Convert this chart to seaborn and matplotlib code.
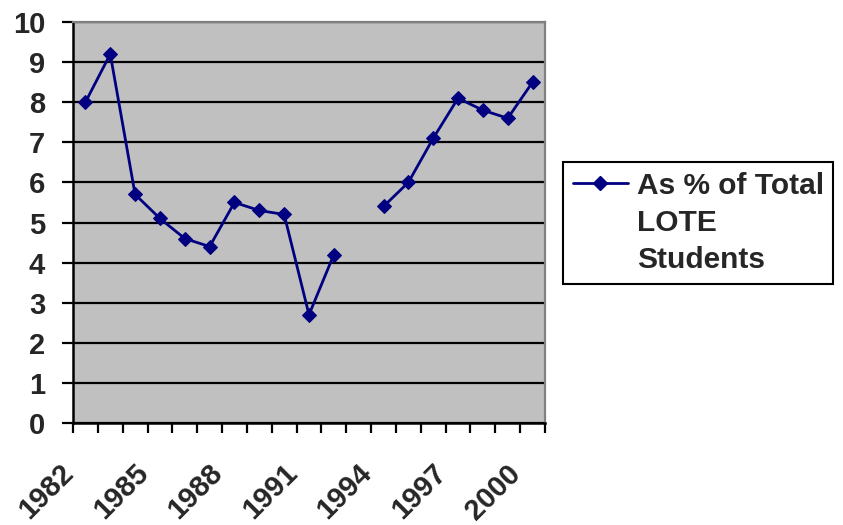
import matplotlib as mpl
mpl.use("Agg")
import matplotlib.pyplot as plt
import matplotlib.transforms as mtransforms
from matplotlib.legend_handler import HandlerLine2D
import numpy as np
import pandas as pd
import seaborn as sns

YEARS = list(range(1982, 2001))
PCT = [8.0, 9.2, 5.7, 5.1, 4.6, 4.4, 5.5, 5.3, 5.2, 2.7, 4.2, np.nan,
       5.4, 6.0, 7.1, 8.1, 7.8, 7.6, 8.5]
LABEL_YEARS = [1982, 1985, 1988, 1991, 1994, 1997, 2000]
SERIES = "As % of Total\nLOTE\nStudents"

NAVY = "#000080"


class FirstLineHandler(HandlerLine2D):
    # put the legend marker level with the first text line (Excel style)
    def __init__(self, dy, **kw):
        super().__init__(**kw)
        self.dy = dy

    def create_artists(self, *args, **kw):
        arts = super().create_artists(*args, **kw)
        for a in arts:
            a.set_ydata(np.asarray(a.get_ydata()) + self.dy)
        return arts


# --- data: split into segments where a year is missing ---
df = pd.DataFrame({"year": YEARS, "pct": PCT})
df["segment"] = df["pct"].isna().cumsum()
df = df.dropna()

sns.set_style("white")
plt.rcParams["font.family"] = ["Liberation Sans", "DejaVu Sans"]
plt.rcParams["font.weight"] = "bold"

fig = plt.figure(figsize=(8.43, 5.25), dpi=100)
ax = fig.add_axes([73 / 843, 1 - 423 / 525, 472 / 843, 401 / 525])
ax.set_facecolor("#C0C0C0")

sns.lineplot(
    data=df,
    x="year",
    y="pct",
    units="segment",
    estimator=None,
    color=NAVY,
    linewidth=2,
    marker="D",
    markersize=7.5,
    markeredgecolor=NAVY,
    ax=ax,
)

ax.set_xlim(YEARS[0] - 0.5, YEARS[-1] + 0.5)
ax.set_ylim(0, 10)
ax.set_yticks(range(0, 11))
ax.yaxis.grid(True, color="black", linewidth=1.6)
ax.set_axisbelow(True)

# category boundary ticks
ax.set_xticks(np.arange(YEARS[0] - 0.5, YEARS[-1] + 1.0, 1.0), minor=True)
ax.set_xticks(LABEL_YEARS)
ax.set_xticklabels([str(y) for y in LABEL_YEARS], rotation=45, ha="right",
                   rotation_mode="anchor", fontsize=21, fontweight="bold")
ax.tick_params(axis="x", which="major", length=0, pad=26)
ax.tick_params(axis="x", which="minor", length=7, width=1.6, color="black",
               direction="out", bottom=True)
ax.tick_params(axis="y", length=8, width=1.6, color="black", direction="out",
               left=True, labelsize=21, pad=12)
for lbl in ax.get_yticklabels():
    lbl.set_fontweight("bold")

# shift rotated year labels a little to the left
shift = mtransforms.ScaledTranslation(-26 / 100, 0, fig.dpi_scale_trans)
for lbl in ax.get_xticklabels():
    lbl.set_transform(lbl.get_transform() + shift)

ax.set_xlabel("")
ax.set_ylabel("")

for side in ["left", "bottom"]:
    ax.spines[side].set_color("black")
    ax.spines[side].set_linewidth(1.8)
for side in ["top", "right"]:
    ax.spines[side].set_visible(True)
    ax.spines[side].set_color("#808080")
    ax.spines[side].set_linewidth(1.6)

# --- legend ---
handle = mpl.lines.Line2D([], [], color=NAVY, linewidth=2, marker="D",
                          markersize=7.5)
leg = fig.legend(
    [handle],
    [SERIES],
    loc="upper left",
    bbox_to_anchor=(563 / 843, 1 - 162 / 525),
    frameon=True,
    fancybox=False,
    handlelength=1.85,
    handletextpad=0.3,
    borderpad=0.32,
    borderaxespad=0,
    prop={"weight": "bold", "size": 21.5},
    handler_map={mpl.lines.Line2D: FirstLineHandler(dy=29.5)},
)
leg.get_frame().set_edgecolor("black")
leg.get_frame().set_linewidth(1.5)
leg.get_frame().set_alpha(1)
for t in leg.get_texts():
    t.set_linespacing(1.43)

fig.savefig("out.png", dpi=100)
